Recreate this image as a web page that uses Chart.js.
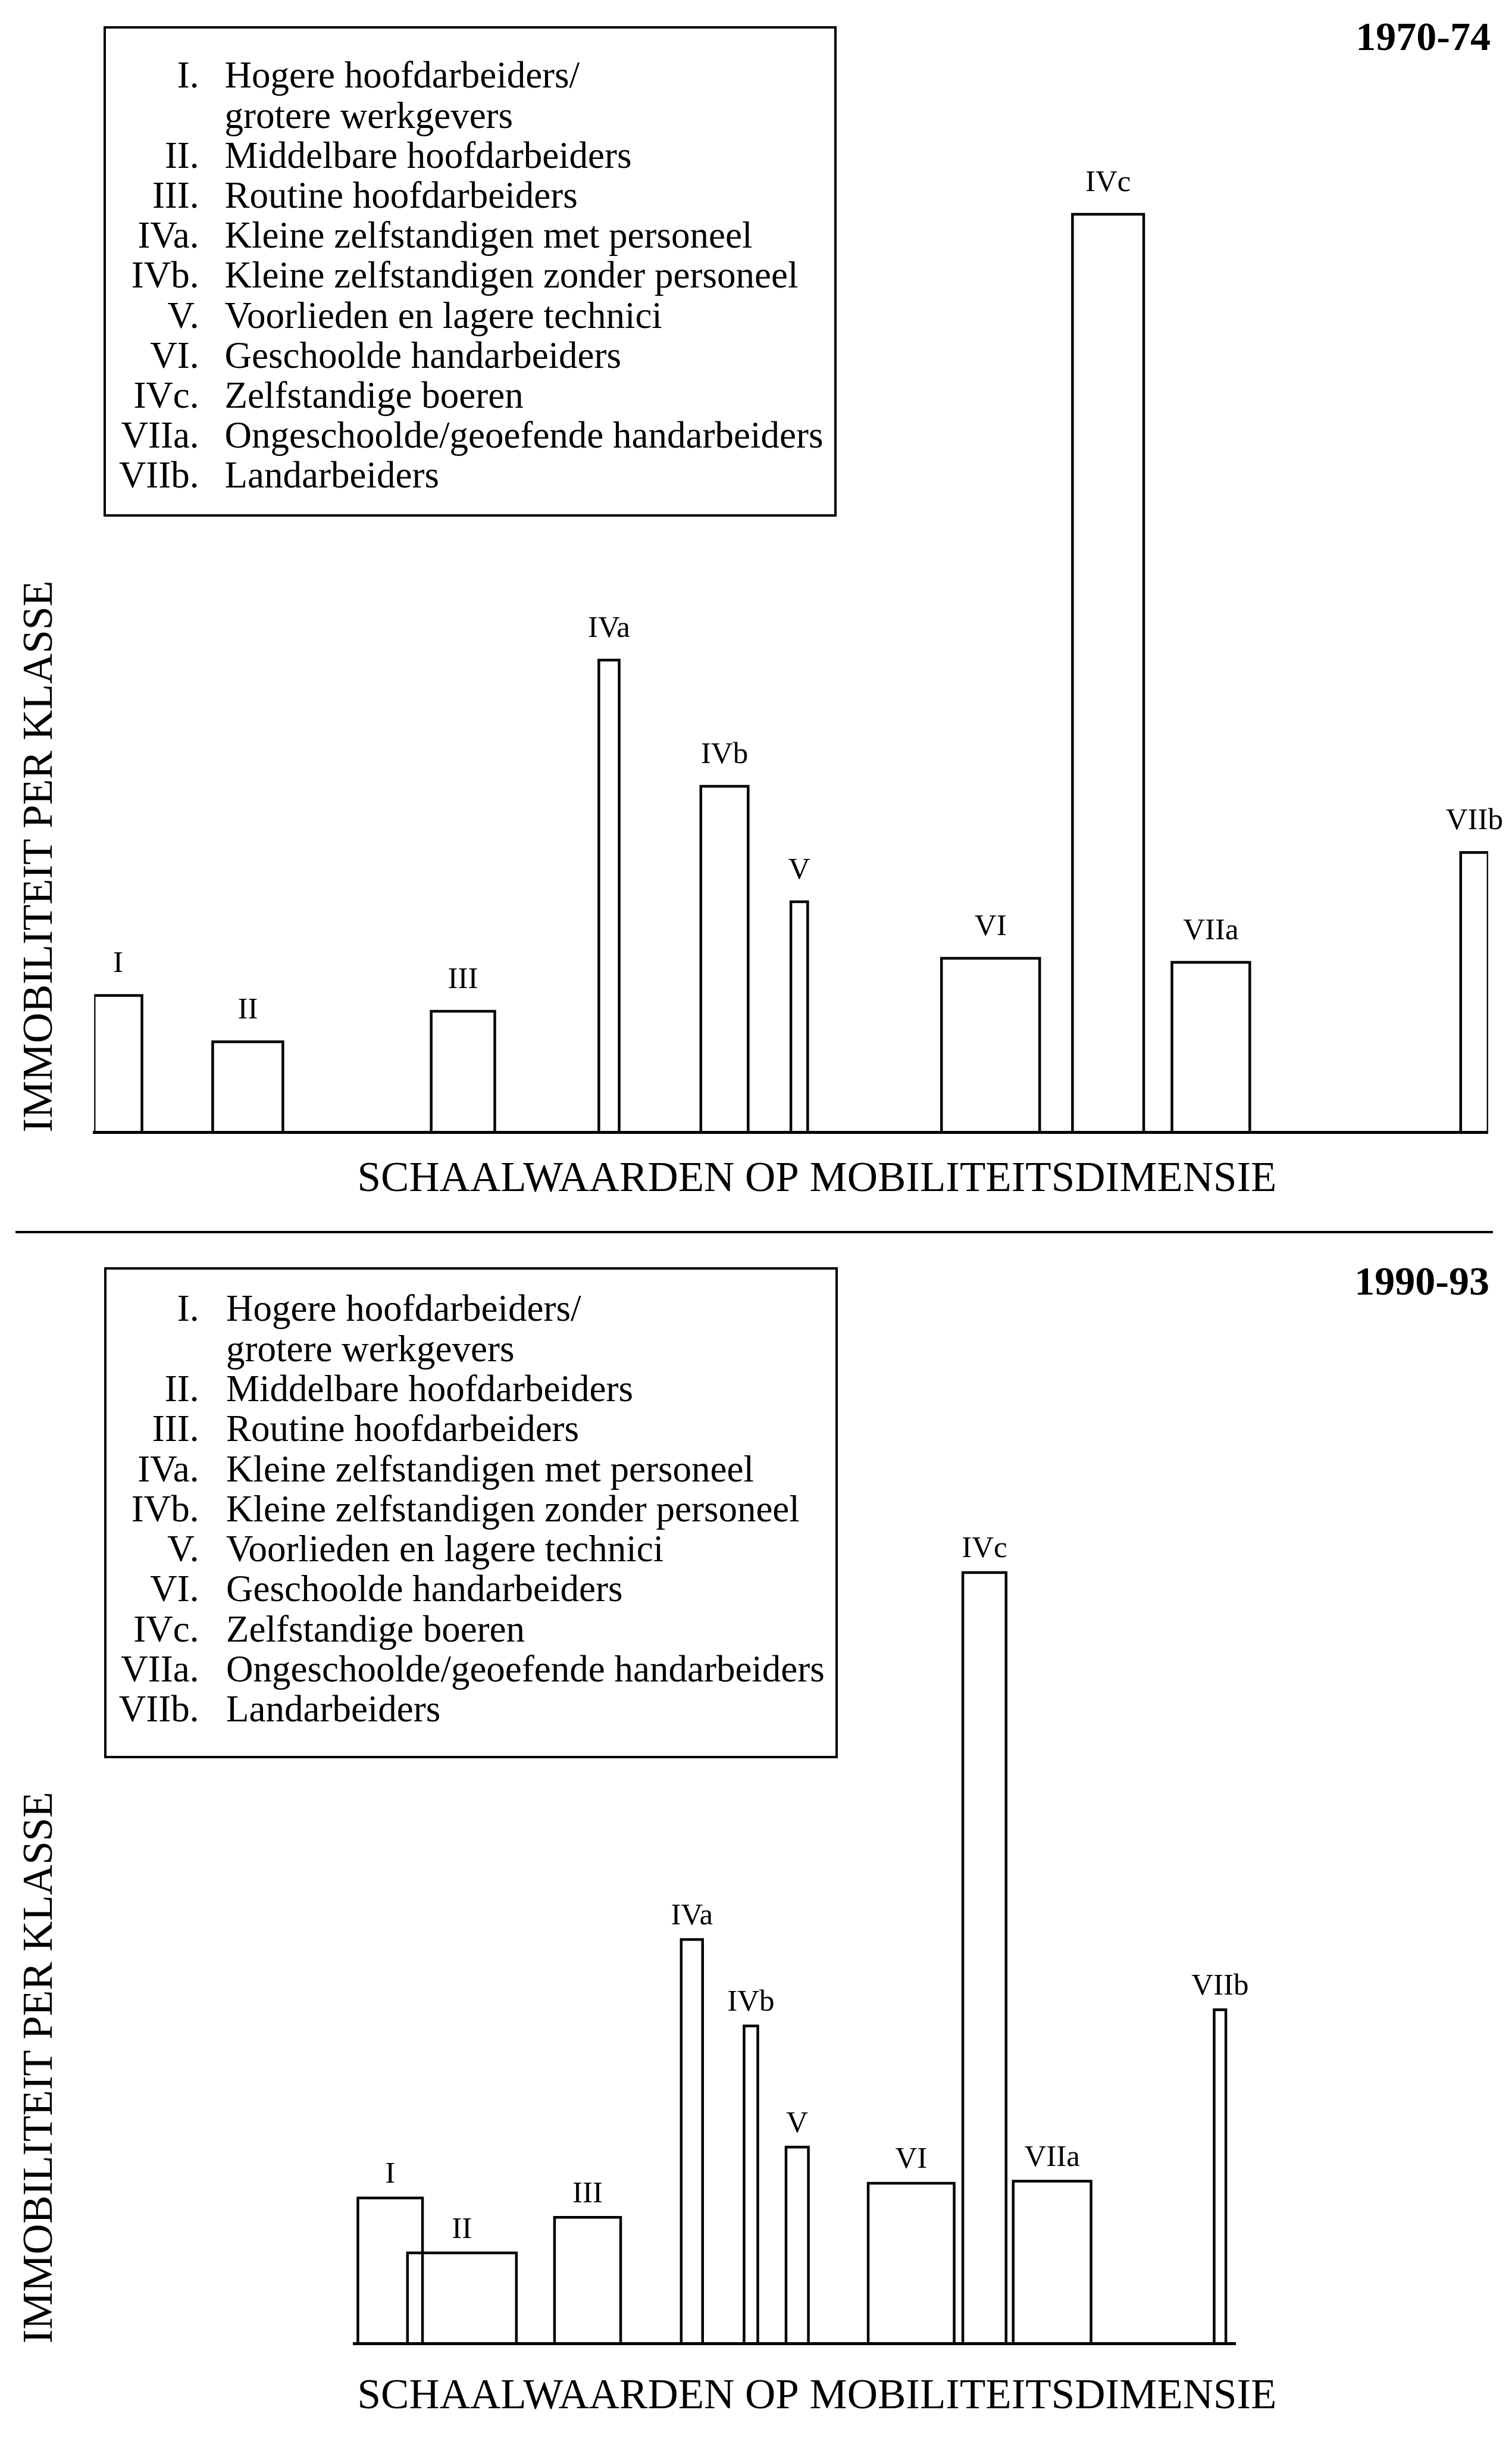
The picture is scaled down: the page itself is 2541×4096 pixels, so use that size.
<!DOCTYPE html>
<html>
<head>
<meta charset="utf-8">
<script src="https://cdn.jsdelivr.net/npm/chart.js@4/dist/chart.umd.min.js"></script>
<style>
  html, body { margin: 0; padding: 0; background: #fff; }
  #page { position: relative; width: 2541px; height: 4096px; overflow: hidden;
          font-family: 'Liberation Serif', serif; color: #000; }
  canvas { position: absolute; left: 0; }
  .legend { position: absolute; border: 4.5px solid #000; box-sizing: border-box; font-size: 63px; }
  .legend .row { position: absolute; left: 0; right: 0; white-space: nowrap; }
  .legend .num { position: absolute; left: 0; text-align: right; }
  .legend .name { position: absolute; }
  .period { position: absolute; font-size: 68px; font-weight: bold; line-height: 1; }
  .divider { position: absolute; background: #000; }
</style>
</head>
<body>
<div id="page">
  <canvas id="chartTop" width="2541" height="2050" style="top:0"></canvas>
  <canvas id="chartBottom" width="2541" height="1996" style="top:2100px"></canvas>
  <div class="legend" id="legendTop" style="left:174px;top:44px;width:1232px;height:824px"></div>
  <div class="legend" id="legendBottom" style="left:175px;top:2129px;width:1233px;height:825px"></div>
  <div class="period" id="periodTop" style="right:36px;top:27px"></div>
  <div class="period" id="periodBottom" style="right:38px;top:2118px"></div>
  <div class="divider" style="left:26px;top:2068px;width:2483px;height:3.5px"></div>
</div>
<script>
// class codes, in the order of the legend
const classLabels = ['I', 'II', 'III', 'IVa', 'IVb', 'V', 'VI', 'IVc', 'VIIa', 'VIIb'];

const legendNumerals = ['I.', '', 'II.', 'III.', 'IVa.', 'IVb.', 'V.', 'VI.', 'IVc.', 'VIIa.', 'VIIb.'];
const legendNames = [
  'Hogere hoofdarbeiders/',
  'grotere werkgevers',
  'Middelbare hoofdarbeiders',
  'Routine hoofdarbeiders',
  'Kleine zelfstandigen met personeel',
  'Kleine zelfstandigen zonder personeel',
  'Voorlieden en lagere technici',
  'Geschoolde handarbeiders',
  'Zelfstandige boeren',
  'Ongeschoolde/geoefende handarbeiders',
  'Landarbeiders'
];

const periods = ['1970-74', '1990-93'];
const xTitle = 'SCHAALWAARDEN OP MOBILITEITSDIMENSIE';
const yTitle = 'IMMOBILITEIT PER KLASSE';

// 1970-74: position on the mobility dimension (bar centre), class width, immobility (bar height)
const scaleValues7074 = [0.47, 3.02, 7.25, 10.12, 12.39, 13.86, 17.62, 19.93, 21.95, 27.13];
const classWidths7074 = [0.94, 1.38, 1.25, 0.40, 0.93, 0.33, 1.93, 1.40, 1.53, 0.54];
const immobility7074  = [2.69, 1.78, 2.38, 9.28, 6.80, 4.53, 3.42, 18.04, 3.34, 5.50];
const xExtent7074 = [0, 27.4];
const yMax7074 = 20;

// 1990-93
const scaleValues9093 = [0.70, 2.11, 4.58, 6.63, 7.79, 8.70, 10.94, 12.38, 13.71, 17.01];
const classWidths9093 = [1.27, 2.14, 1.30, 0.42, 0.27, 0.44, 1.69, 0.85, 1.53, 0.23];
const immobility9093  = [2.86, 1.78, 2.48, 7.94, 6.24, 3.86, 3.15, 15.15, 3.19, 6.56];
const xExtent9093 = [0, 17.32];
const yMax9093 = 17;

Chart.defaults.font.family = "'Liberation Serif', serif";
Chart.defaults.color = '#000';

// each class is an open rectangle standing on the baseline
function buildDatasets(centres, widths, values) {
  return classLabels.map((label, i) => {
    const left = centres[i] - widths[i] / 2;
    const right = centres[i] + widths[i] / 2;
    return {
      label,
      data: [{x: left, y: 0}, {x: left, y: values[i]}, {x: right, y: values[i]}, {x: right, y: 0}],
      borderColor: '#000',
      borderWidth: 4.5,
      borderJoinStyle: 'miter',
      borderCapStyle: 'butt',
      pointRadius: 0,
      fill: false,
      tension: 0
    };
  });
}

const barLabels = {
  id: 'barLabels',
  afterDatasetsDraw(chart, args, opts) {
    const {ctx, scales: {x, y}} = chart;
    ctx.save();
    ctx.fillStyle = '#000';
    ctx.textAlign = 'center';
    ctx.textBaseline = 'alphabetic';
    ctx.font = opts.size + "px 'Liberation Serif'";
    chart.data.datasets.forEach(ds => {
      const pts = ds.data;
      const cx = x.getPixelForValue((pts[0].x + pts[3].x) / 2);
      const top = y.getPixelForValue(pts[1].y);
      ctx.fillText(ds.label, cx, top - opts.gap);
    });
    ctx.font = opts.titleSize + "px 'Liberation Serif'";
    ctx.fillText(opts.title, opts.titleX, opts.titleY);
    ctx.restore();
  }
};

function makeChart(id, centres, widths, values, xExtent, yMax, lay) {
  return new Chart(document.getElementById(id), {
    type: 'line',
    data: {datasets: buildDatasets(centres, widths, values)},
    options: {
      responsive: false,
      animation: false,
      devicePixelRatio: 1,
      events: [],
      layout: {autoPadding: false, padding: lay.padding},
      scales: {
        x: {
          type: 'linear',
          min: xExtent[0],
          max: xExtent[1],
          ticks: {display: false},
          grid: {display: false, drawTicks: false},
          border: {display: true, color: '#000', width: 5}
        },
        y: {
          type: 'linear',
          min: 0,
          max: yMax,
          ticks: {display: false},
          grid: {display: false, drawTicks: false},
          border: {display: false},
          title: {
            display: true,
            text: yTitle,
            align: 'start',
            font: {size: 71, lineHeight: 1},
            padding: lay.yTitlePadding
          }
        }
      },
      plugins: {
        legend: {display: false},
        tooltip: {enabled: false},
        barLabels: {
          size: 51,
          gap: lay.labelGap,
          title: xTitle,
          titleSize: 71,
          titleX: 1373,
          titleY: lay.titleY
        }
      }
    },
    plugins: [barLabels]
  });
}

makeChart('chartTop', scaleValues7074, classWidths7074, immobility7074, xExtent7074, yMax7074, {
  padding: {top: 192.4, right: 40.1, bottom: 147.6, left: 0},
  yTitlePadding: {top: 32.9, bottom: 54.3},
  labelGap: 39,
  titleY: 2001
});

makeChart('chartBottom', scaleValues9093, classWidths9093, immobility9093, xExtent9093, yMax9093, {
  padding: {top: 383.8, right: 464.2, bottom: 158.7, left: 0},
  yTitlePadding: {top: 32.9, bottom: 492},
  labelGap: 25.5,
  titleY: 1946
});

function buildLegend(id, numRight, nameLeft, firstTop, step) {
  const box = document.getElementById(id);
  legendNames.forEach((name, i) => {
    const row = document.createElement('div');
    row.className = 'row';
    row.style.top = (firstTop + i * step) + 'px';
    row.style.height = step + 'px';
    row.style.lineHeight = step + 'px';
    const num = document.createElement('span');
    num.className = 'num';
    num.style.width = numRight + 'px';
    num.textContent = legendNumerals[i];
    const txt = document.createElement('span');
    txt.className = 'name';
    txt.style.left = nameLeft + 'px';
    txt.textContent = name;
    row.appendChild(num);
    row.appendChild(txt);
    box.appendChild(row);
  });
}

buildLegend('legendTop', 156.6, 199.6, 45.3, 67.2);
buildLegend('legendBottom', 155.5, 201, 32.3, 67.3);

document.getElementById('periodTop').textContent = periods[0];
document.getElementById('periodBottom').textContent = periods[1];
</script>
</body>
</html>
